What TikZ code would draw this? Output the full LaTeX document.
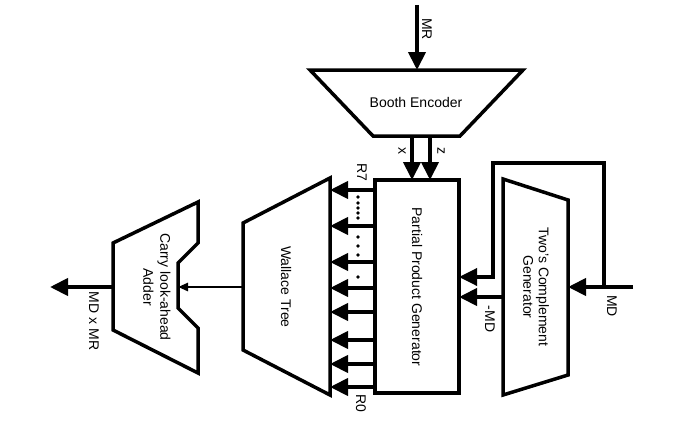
\documentclass[tikz,border=0pt]{standalone}
\usepackage{fontspec}
\setmainfont{Liberation Sans}
\usetikzlibrary{arrows.meta}
\tikzset{unit/.style={draw=black,line width=3.5pt,line join=miter},
 bus/.style={line width=4pt,-{Triangle[length=18pt 0,width=17pt 0]}},
 thinbus/.style={line width=2.5pt,-{Triangle[length=10pt 0,width=8pt 0]}},
 wire/.style={line width=3.5pt,line join=miter},
 title/.style={rotate=-90,align=center,font=\fontsize{14}{15.5}\selectfont},
 lbl/.style={rotate=-90,inner sep=0pt,font=\fontsize{14}{16}\selectfont},
 dot/.style={circle,fill=black,inner sep=1.3pt},
 every picture/.style={line cap=butt}}
\begin{document}
\begin{tikzpicture}[x=1pt,y=-1pt]
\useasboundingbox (0,0) rectangle (700,420);
% blocks
\path[unit] (310,70) -- (523,70) -- (460,136) -- (373,136) -- cycle;
\path[unit] (375,180) rectangle (459,393);
\path[unit] (243,223) -- (330,178) -- (330,395) -- (243,350) -- cycle;
\path[unit] (503,179) -- (568,200) -- (568,375) -- (503,395) -- cycle;
\path[unit] (198,202) -- (198,243) -- (178,263) -- (178,308) -- (198,328)
 -- (198,373) -- (113,330) -- (113,243) -- cycle;
\node[font=\fontsize{14}{16}\selectfont] (booth) at (416,102) {Booth Encoder};
\node[title] (ppg) at (417,287) {Partial Product Generator};
\node[title] (wallace) at (286,287) {Wallace Tree};
\node[title] (twos) at (536,287) {Two's Complement\\Generator};
\node[title,font=\fontsize{14}{17}\selectfont] (cla) at (157,287) {Carry look-ahead\\Adder};
% ports
\coordinate (mrin) at (417,5);
\coordinate (boothin) at (417,70);
\coordinate (xout) at (412,136);
\coordinate (xin) at (412,180);
\coordinate (zout) at (430,136);
\coordinate (zin) at (430,180);
\coordinate (mdin) at (633,287);
\coordinate (twosin) at (568,287);
\coordinate (tap) at (604,287);
\coordinate (mdin2) at (459,277);
\coordinate (twosout) at (503,297);
\coordinate (negin) at (459,297);
\coordinate (wtout) at (243,287);
\coordinate (clain) at (178,287);
\coordinate (claout) at (113,287);
\coordinate (result) at (50,287);
% connections
\draw[bus] (mrin) -- (boothin);
\draw[bus] (xout) -- (xin);
\draw[bus] (zout) -- (zin);
\draw[bus] (mdin) -- (twosin);
\draw[wire,-{Triangle[length=18pt 0,width=17pt 0]}] (tap) -- (604,163) -- (493,163)
 -- (493,277) -- (mdin2);
\draw[bus] (twosout) -- (negin);
\foreach \i/\y in {7/190,6/226,5/262,4/288,3/312,2/340,1/364,0/387}{
 \coordinate (pp\i) at (375,\y);
 \coordinate (wt\i) at (330,\y);
 \draw[bus] (pp\i) -- (wt\i);
}
\foreach \y in {197,203,208,213,218,237,246,255,277}
 \node[dot] at (358,\y) {};
\draw[thinbus] (wtout) -- (clain);
\draw[bus] (claout) -- (result);
% labels
\node[lbl] (mrlbl) at (427,29) {MR};
\node[lbl] (xlbl) at (402,151) {x};
\node[lbl] (zlbl) at (441,151) {z};
\node[lbl] (r7lbl) at (362,172) {R7};
\node[lbl] (r0lbl) at (361,403) {R0};
\node[lbl] (neglbl) at (490,319) {-MD};
\node[lbl] (mdlbl) at (612,306) {MD};
\node[lbl] (prodlbl) at (94,321) {MD x MR};
\end{tikzpicture}
\end{document}
